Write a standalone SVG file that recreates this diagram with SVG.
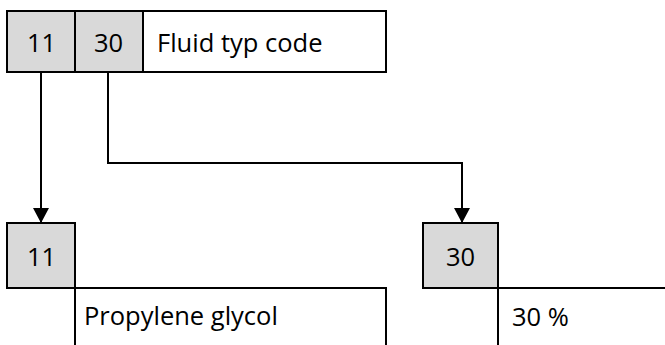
<svg xmlns="http://www.w3.org/2000/svg" width="665" height="345" viewBox="0 0 665 345">
<defs>
<marker id="arr" markerWidth="16" markerHeight="16" refX="15" refY="8" orient="auto" markerUnits="userSpaceOnUse">
<path d="M0,0 L15,8 L0,16 Z" fill="#000"/>
</marker>
<style>
.g{fill:#d9d9d9;stroke:#000;stroke-width:2}
.w{fill:#fff;stroke:#000;stroke-width:2}
.l{fill:none;stroke:#000;stroke-width:2}
text{font-family:"Open Sans","Liberation Sans",sans-serif;font-size:25.5px;fill:#000}
.c{text-anchor:middle}
</style>
</defs>
<rect width="665" height="345" fill="#fff"/>
<g id="header">
<rect class="w" x="7" y="11" width="379" height="61"/>
<rect class="g" x="7" y="11" width="68" height="61"/>
<rect class="g" x="75" y="11" width="68" height="61"/>
<text class="c" x="41.5" y="52">11</text>
<text class="c" x="108.5" y="52">30</text>
<text x="157" y="52">Fluid typ code</text>
</g>
<g id="connectors">
<path class="l" d="M41,72 V223" marker-end="url(#arr)"/>
<path class="l" d="M108,72 V163 H462 V223" marker-end="url(#arr)"/>
</g>
<g id="code11">
<rect class="g" x="7" y="223" width="68" height="65"/>
<text class="c" x="41.5" y="266">11</text>
</g>
<g id="propylene">
<path class="l" d="M75,345 V288 H386 V345"/>
<text x="84" y="325">Propylene glycol</text>
</g>
<g id="code30">
<rect class="g" x="423" y="223" width="75" height="65"/>
<text class="c" x="460.5" y="266">30</text>
</g>
<g id="percent">
<path class="l" d="M498,345 V288 H665"/>
<text x="512" y="326">30 %</text>
</g>
</svg>
